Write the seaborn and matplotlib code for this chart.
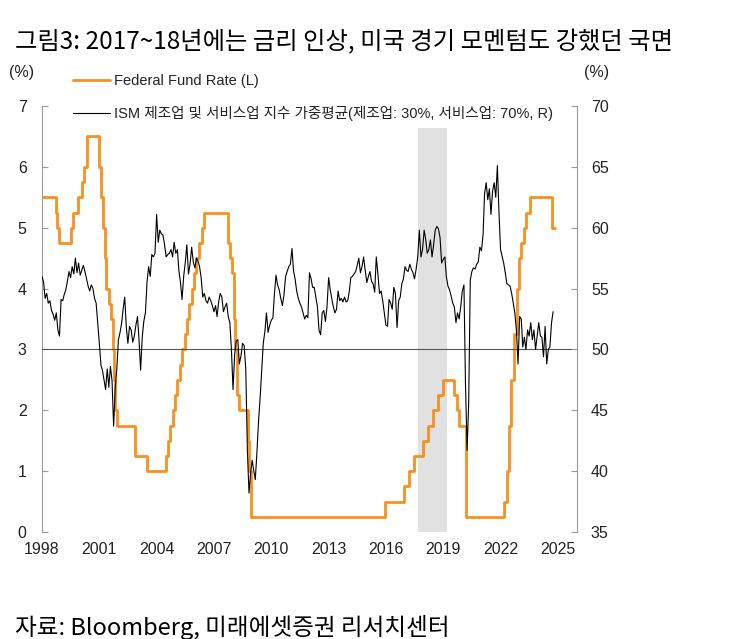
import pandas as pd
import matplotlib
matplotlib.use("Agg")
import matplotlib.pyplot as plt
import matplotlib.dates as mdates
import seaborn as sns

# ------------------ DATA ------------------
# Fed funds target rate (upper bound): date of each change and the new level
ffr_dates = [
    "1998-01-01", "1998-09-29", "1998-10-15", "1998-11-17", "1999-06-30", "1999-08-24",
    "1999-11-16", "2000-02-02", "2000-03-21", "2000-05-16", "2001-01-03", "2001-01-31",
    "2001-03-20", "2001-04-18", "2001-05-15", "2001-06-27", "2001-08-21", "2001-09-17",
    "2001-10-02", "2001-11-06", "2001-12-11", "2002-11-06", "2003-06-25", "2004-06-30",
    "2004-08-10", "2004-09-21", "2004-11-10", "2004-12-14", "2005-02-02", "2005-03-22",
    "2005-05-03", "2005-06-30", "2005-08-09", "2005-09-20", "2005-11-01", "2005-12-13",
    "2006-01-31", "2006-03-28", "2006-05-10", "2006-06-29", "2007-09-18", "2007-10-31",
    "2007-12-11", "2008-01-22", "2008-01-30", "2008-03-18", "2008-04-30", "2008-10-08",
    "2008-10-29", "2008-12-16", "2015-12-16", "2016-12-14", "2017-03-15", "2017-06-14",
    "2017-12-13", "2018-03-21", "2018-06-13", "2018-09-26", "2018-12-19", "2019-07-31",
    "2019-09-18", "2019-10-30", "2020-03-03", "2020-03-15", "2022-03-16", "2022-05-04",
    "2022-06-15", "2022-07-27", "2022-09-21", "2022-11-02", "2022-12-14", "2023-02-01",
    "2023-03-22", "2023-05-03", "2023-07-26", "2024-09-18", "2024-10-31",
]
ffr_rates = [
    5.5, 5.25, 5.0, 4.75, 5.0, 5.25,
    5.5, 5.75, 6.0, 6.5, 6.0, 5.5,
    5.0, 4.5, 4.0, 3.75, 3.5, 3.0,
    2.5, 2.0, 1.75, 1.25, 1.0, 1.25,
    1.5, 1.75, 2.0, 2.25, 2.5, 2.75,
    3.0, 3.25, 3.5, 3.75, 4.0, 4.25,
    4.5, 4.75, 5.0, 5.25, 4.75, 4.5,
    4.25, 3.5, 3.0, 2.25, 2.0, 1.5,
    1.0, 0.25, 0.5, 0.75, 1.0, 1.25,
    1.5, 1.75, 2.0, 2.25, 2.5, 2.25,
    2.0, 1.75, 1.25, 0.25, 0.5, 1.0,
    1.75, 2.5, 3.25, 4.0, 4.5, 4.75,
    5.0, 5.25, 5.5, 5.0, 5.0,
]

# ISM weighted index (mfg 30%, services 70%), monthly from Jan 1998
ism_start = "1998-01-01"
ism_values = [
    56.0, 55.5, 54.2, 54.6, 53.8, 54.0, 53.2, 52.9, 52.4, 53.0, 51.6, 51.1,  # 1998
    54.1, 54.0, 54.5, 54.9, 55.6, 56.4, 55.9, 56.8, 56.2, 57.5, 56.3, 57.1,  # 1999
    56.1, 56.5, 56.9, 56.4, 55.8, 55.2, 54.8, 55.3, 55.0, 54.2, 53.8, 52.2,  # 2000
    50.5, 48.7, 48.3, 47.5, 46.7, 48.4, 46.9, 48.6, 47.4, 43.7, 46.8, 48.4,  # 2001
    50.8, 51.4, 52.1, 53.3, 54.3, 51.8, 50.5, 51.9, 51.6, 50.6, 51.1, 52.0,  # 2002
    52.7, 50.6, 48.3, 51.0, 52.3, 53.0, 55.5, 56.8, 56.0, 57.8, 57.6, 57.9,  # 2003
    61.1, 58.8, 59.8, 59.5, 59.4, 58.6, 57.6, 57.8, 57.9, 58.2, 57.6, 58.8,  # 2004
    57.9, 58.2, 56.5, 55.5, 54.1, 56.0, 57.1, 58.6, 56.2, 57.0, 58.4, 57.2,  # 2005
    56.7, 57.5, 57.3, 56.8, 55.9, 54.3, 54.6, 54.0, 53.8, 54.3, 54.0, 53.6,  # 2006
    53.1, 53.6, 52.7, 53.9, 54.6, 54.3, 53.1, 53.5, 53.8, 52.7, 52.2, 50.0,  # 2007
    46.7, 49.6, 50.7, 50.8, 48.8, 49.5, 50.5, 50.3, 48.3, 41.7, 38.2, 39.8,  # 2008
    40.9, 40.0, 39.3, 41.5, 44.0, 46.0, 48.2, 50.5, 51.5, 53.0, 51.4, 52.0,  # 2009
    52.4, 52.6, 54.5, 56.1, 55.3, 54.9, 54.2, 53.6, 54.5, 56.0, 56.4, 56.8,  # 2010
    57.0, 58.3, 56.5, 55.8, 54.8, 54.2, 53.8, 53.5, 53.0, 52.5, 52.8, 52.6,  # 2011
    56.3, 55.8, 55.1, 55.1, 54.3, 53.5, 51.6, 51.2, 53.0, 53.2, 52.3, 53.5,  # 2012
    55.9, 54.9, 54.2, 53.5, 53.0, 53.3, 54.8, 54.0, 54.2, 53.9, 54.3, 53.9,  # 2013
    54.0, 54.8, 55.9, 56.0, 56.2, 56.4, 56.9, 57.5, 56.3, 56.8, 57.6, 56.5,  # 2014
    55.5, 56.0, 56.4, 55.6, 55.4, 54.7, 57.6, 56.2, 54.6, 54.8, 54.0, 53.0,  # 2015
    52.0, 51.9, 54.1, 53.8, 53.3, 55.1, 54.6, 51.8, 54.0, 54.3, 55.4, 55.8,  # 2016
    56.8, 56.5, 56.4, 57.0, 56.6, 56.3, 55.8, 56.6, 57.6, 59.8, 57.6, 58.2,  # 2017
    59.8, 59.0, 57.9, 58.2, 59.0, 57.6, 58.6, 59.8, 60.1, 59.9, 59.2, 57.1,  # 2018
    57.4, 57.6, 56.0, 55.2, 54.9, 54.4, 53.8, 53.5, 52.2, 53.0, 52.5, 53.5,  # 2019
    54.8, 55.3, 47.2, 41.7, 45.5, 55.7, 56.4, 56.7, 56.6, 57.0, 57.2, 58.4,  # 2020
    58.1, 59.5, 62.8, 63.7, 62.3, 63.2, 61.1, 63.0, 63.7, 62.5, 65.1, 61.3,  # 2021
    58.2, 57.6, 57.1, 56.3, 55.4, 55.3, 55.2, 54.6, 53.8, 53.0, 51.5, 48.8,  # 2022
    52.7, 52.5, 50.2, 51.0, 50.0, 51.6, 51.1, 52.2, 50.8, 51.6, 50.0, 51.1,  # 2023
    52.2, 51.1, 51.0, 49.4, 51.9, 48.8, 50.0, 50.2, 52.2, 53.1,              # 2024
]

# highlighted period (2017~18 hikes)
shade_start = "2017-09-01"
shade_end = "2019-03-20"

tick_years = [1998, 2001, 2004, 2007, 2010, 2013, 2016, 2019, 2022, 2025]

TITLE = "그림3: 2017~18년에는 금리 인상, 미국 경기 모멘텀도 강했던 국면"
SOURCE = "자료: Bloomberg, 미래에셋증권 리서치센터"
FFR_LABEL = "Federal Fund Rate (L)"
ISM_LABEL = "ISM 제조업 및 서비스업 지수 가중평균(제조업: 30%, 서비스업: 70%, R)"

ORANGE = "#F7901E"
AXIS_GREY = "#9a9a9a"
TEXT = "#222222"

# ------------------ STYLE ------------------
sns.set_style("white")
plt.rcParams["font.family"] = ["Liberation Sans", "Noto Sans CJK KR"]

ffr = pd.DataFrame({"date": pd.to_datetime(ffr_dates), "rate": ffr_rates})
ism = pd.DataFrame({
    "date": pd.date_range(ism_start, periods=len(ism_values), freq="MS"),
    "ism": ism_values,
})

# ------------------ PLOT ------------------
fig = plt.figure(figsize=(7.54, 6.39), dpi=100)
ax = fig.add_axes([42 / 754, 1 - 532 / 639, 535 / 754, 426 / 639])
ax2 = ax.twinx()

sns.lineplot(data=ffr, x="date", y="rate", ax=ax, color=ORANGE, lw=2.0,
             drawstyle="steps-post", legend=False)
sns.lineplot(data=ism, x="date", y="ism", ax=ax2, color="black", lw=0.8, legend=False)
ax.axvspan(pd.Timestamp(shade_start), pd.Timestamp(shade_end), ymin=0, ymax=0.948,
           color="#e1e1e1", lw=0, zorder=0)

ax.set_xlim(pd.Timestamp("1998-01-01"), pd.Timestamp("2026-01-01"))
ax.set_ylim(0, 7)
ax2.set_ylim(35, 70)
ax.set_yticks(range(0, 8))
ax2.set_yticks(range(35, 71, 5))
ax.set_xticks([pd.Timestamp(f"{y}-01-01") for y in tick_years])
ax.xaxis.set_major_formatter(mdates.DateFormatter("%Y"))
for a in (ax, ax2):
    a.set_xlabel("")
    a.set_ylabel("")

# x axis line sits on 3 (= 50), year labels stay at the bottom
ax.spines["bottom"].set_position(("data", 3))
ax.spines["bottom"].set_color("#555555")
ax.spines["bottom"].set_linewidth(0.8)
ax.spines["left"].set_color(AXIS_GREY)
ax.spines["top"].set_visible(False)
ax.spines["right"].set_visible(False)
for s in ("top", "bottom", "left"):
    ax2.spines[s].set_visible(False)
ax2.spines["right"].set_color(AXIS_GREY)

ax.tick_params(axis="x", direction="in", length=4, width=0.8, color="#555555",
               labelbottom=False)
ax2.xaxis.set_visible(True)
ax2.xaxis.set_ticks_position("bottom")
ax2.tick_params(axis="x", length=0, pad=7, labelsize=11.5, labelcolor=TEXT,
                labelbottom=True)
ax.tick_params(axis="y", direction="in", length=4, color=AXIS_GREY, pad=11,
               labelsize=11.5, labelcolor=TEXT)
ax2.tick_params(axis="y", direction="in", length=4, color=AXIS_GREY, pad=10,
                labelsize=11.5, labelcolor=TEXT)

fig.legend([ax.lines[0], ax2.lines[0]], [FFR_LABEL, ISM_LABEL], loc="upper left",
           bbox_to_anchor=(73 / 754, 1 - 74 / 639), frameon=False, fontsize=10.5,
           handlelength=2.55, handletextpad=0.25, labelspacing=1.25,
           borderpad=0, borderaxespad=0, labelcolor=TEXT)

fig.text(22 / 754, 1 - 73 / 639, "(%)", ha="center", va="center", fontsize=11.5, color=TEXT)
fig.text(597 / 754, 1 - 73 / 639, "(%)", ha="center", va="center", fontsize=11.5, color=TEXT)
fig.text(15 / 754, 1 - 42 / 639, TITLE, ha="left", va="center", fontsize=17.5,
         color="black", family=["Noto Sans CJK KR"])
fig.text(15 / 754, 1 - 627 / 639, SOURCE, ha="left", va="center", fontsize=17,
         color="black", family=["Noto Sans CJK KR"])

fig.savefig("out.png", dpi=100)
plt.close(fig)
